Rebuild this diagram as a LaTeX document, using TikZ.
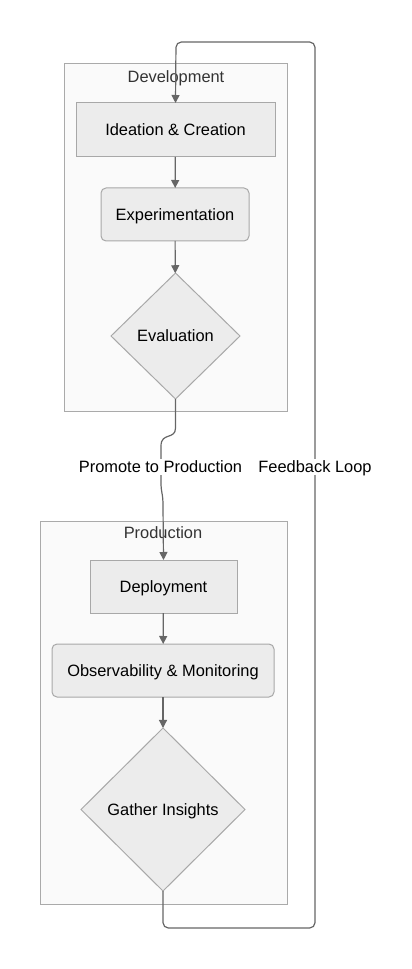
\documentclass[tikz,border=0pt]{standalone}
\usepackage{fontspec}
\setmainfont{Liberation Sans}
\usetikzlibrary{arrows.meta,positioning,shapes.geometric}
\definecolor{nodefill}{HTML}{ECECEC}
\definecolor{nodeline}{HTML}{A8A8A8}
\definecolor{clfill}{HTML}{FAFAFA}
\definecolor{clline}{HTML}{AAAAAA}
\definecolor{edgecol}{HTML}{666666}
\definecolor{titlecol}{HTML}{333333}
\tikzset{
  txt/.style={font=\fontsize{12.3}{14}\selectfont,text height=9.5pt,text depth=1pt},
  blk/.style={txt,draw=nodeline,fill=nodefill,rectangle,inner sep=0pt,outer sep=0pt,line width=0.75pt,align=center},
  rblk/.style={blk,rounded corners=3.75pt},
  dmd/.style={blk,diamond},
  clbox/.style={draw=clline,fill=clfill,rectangle,inner sep=0pt,outer sep=0pt,line width=0.75pt},
  cltitle/.style={txt,text=titlecol},
  arr/.style={-{Triangle[length=6pt,width=6pt]},edgecol,line width=0.9pt},
  lbl/.style={txt,fill=white,inner sep=1pt}
}

\begin{document}
\begin{tikzpicture}[x=0.75pt,y=-0.75pt]
  \useasboundingbox (0,0) rectangle (411,969);

  % clusters
  \node[clbox, minimum width=167.25pt, minimum height=260.25pt] (devcl) at (175.5,237.5) {};
  \node[cltitle] (devtitle) at (176,77) {Development};
  \node[clbox, minimum width=185.25pt, minimum height=287.25pt] (prodcl) at (163.5,712.5) {};
  \node[cltitle] (prodtitle) at (163,533) {Production};

  % development steps
  \node[blk, minimum width=149.25pt, minimum height=40.5pt] (ideate) at (175.5,130) {Ideation \& Creation};
  \node[rblk, minimum width=111pt, minimum height=39.75pt] (experiment) at (175,214.5) {Experimentation};
  \node[dmd, minimum width=96.75pt, minimum height=94.5pt] (evaluate) at (175.5,336) {Evaluation};

  % production steps
  \node[blk, minimum width=110.25pt, minimum height=39.75pt] (deploy) at (163.5,586.5) {Deployment};
  \node[rblk, minimum width=166.5pt, minimum height=39.75pt] (observe) at (163,670.5) {Observability \& Monitoring};
  \node[dmd, minimum width=123pt, minimum height=122.25pt] (insights) at (163,809.5) {Gather Insights};

  \draw[arr] (ideate) -- (experiment);
  \draw[arr] (experiment) -- (evaluate);
  \draw[arr] (deploy) -- (observe);
  \draw[arr] (observe) -- (insights);

  % promote edge
  \draw[arr] (evaluate.south) -- (175.5,428) .. controls (175.5,440) and (161,432) .. (161,446)
    -- (161,482) .. controls (161,494) and (163,492) .. (163,506) -- (deploy.north);
  \node[lbl] (promote) at (160.5,467) {Promote to Production};

  % feedback loop
  \draw[arr, rounded corners=4pt] (insights.south) -- (163,928) -- (315,928) -- (315,42) -- (176,42) -- (ideate.north);
  \node[lbl] (feedback) at (315,467) {Feedback Loop};
\end{tikzpicture}
\end{document}
